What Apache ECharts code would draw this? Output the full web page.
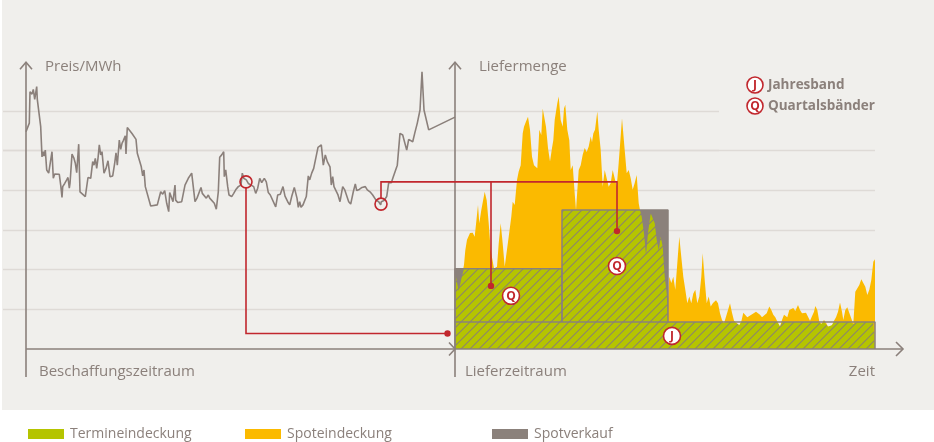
<!DOCTYPE html>
<html><head><meta charset="utf-8">
<script src="https://cdn.jsdelivr.net/npm/echarts@6/dist/echarts.min.js"></script>
<style>html,body{margin:0;padding:0;background:#fff}#c{width:934px;height:442px}</style>
</head><body><div id="c"></div>
<script>
// ---------- data ----------
const priceDays = [0,3.3,4,6,7.3,8.7,10.7,11.3,12.7,14.7,16,17.3,18,19.3,20.7,22.7,24,26,27.3,28.7,30.7,33.3,34.7,36,36.7,38.7,40.7,42,43.3,44,46,48,49.3,50.7,52.7,54,56,59.3,62,64.7,66.7,68,69.3,70.7,72,73.3,74.7,76,78,80,82,84,86.7,88.7,90,91.3,93.3,94.7,96,97.3,99.3,100,101.3,106,110,111.3,115.3,116.7,118,119.3,124.7,131.3,133.3,134.7,136.7,138.7,140.7,142.7,143.7,145.7,147,149,149.7,151.7,153.7,155.7,157.7,159,162.3,165.7,169,171,175,176.3,178.3,180.3,182.3,183.7,185.7,188.3,190.3,192.3,193.7,195.7,197.7,198.3,199.7,201.7,203,205.7,207.7,209.7,212.3,215,216.3,217.7,220.3,222.3,224.3,227.7,229.7,231.7,233.7,235.7,238.3,240.3,242.3,244.3,246.3,249.7,251.7,254.3,257,259,261.7,263.7,265.7,268.3,271,272.3,273.7,275,277,278.3,280.3,282.3,283.7,285.7,287.7,289,292,295.3,297.3,299.3,301.3,304,305.3,306.7,308,310,312,314,316.7,318.7,320.7,322.7,324.7,327.3,329.3,330.7,333.3,336,338,339.3,341.3,344,346.7,348,350,352.7,354.7,355.3,358,360.7,362.7,365.3,367.3,371.3,374,376.7,378.7,380.7,382.7,384.7,386.7,388.7,391.3,394,396,398,402.7,429];
const priceValues = [54.7,56.9,64.8,64.2,65.4,62.9,66.1,62.9,62.7,56.0,48.4,49.7,48.6,50.1,45.1,44.3,43.8,49.7,43.0,44.1,43.8,44.0,41.3,38.2,40.9,41.7,42.6,43.2,40.5,41.7,49.1,48.0,46.8,44.4,51.6,39.6,39.2,38.4,43.2,43.0,47.2,46.3,48.0,45.5,48.0,51.4,48.9,49.7,44.3,45.5,47.4,43.4,43.6,46.8,49.4,46.3,52.6,50.3,51.8,52.5,53.7,49.1,55.8,54.3,52.8,49.3,45.9,43.6,45.1,40.9,36.0,36.3,36.0,39.6,39.0,39.9,36.7,34.6,39.4,39.6,37.1,41.3,37.5,36.9,37.4,37.1,36.9,41.3,43.0,44.3,37.1,38.0,40.7,39.2,39.4,38.0,38.8,38.0,37.5,36.7,35.2,39.6,48.3,48.9,49.7,43.4,45.1,40.9,38.8,38.4,39.2,40.1,40.9,41.3,44.3,43.0,42.6,41.7,41.3,40.9,39.2,40.5,43.0,41.9,43.0,42.1,39.4,38.8,38.5,35.8,38.8,39.0,40.9,38.5,37.1,36.3,38.4,40.7,38.0,35.7,37.1,35.7,36.3,36.7,38.4,43.6,42.6,44.3,45.5,45.9,50.8,51.4,46.3,48.9,47.2,45.9,41.3,43.4,40.9,40.5,38.8,37.1,40.9,40.1,39.6,37.1,36.5,39.6,41.6,39.9,40.2,40.7,40.5,40.9,40.1,39.6,38.8,39.2,37.5,37.1,36.3,37.1,37.4,38.4,41.9,41.9,43.4,46.3,54.3,53.9,53.5,50.1,52.8,52.6,52.2,54.3,56.9,60.2,69.8,60.2,55.2,58.4];

const demandDays = [0,3.7,6.5,9,10.3,12,15,17.7,19.7,23,24.3,26.3,29.7,31.7,33.7,35.7,37.7,39,42,43.7,45.7,47.7,49.7,51.7,53.7,56.3,57.7,59.7,62,63.7,65.7,67.7,69,71,73,75,77,79,80.3,82.3,84.3,86.3,87.7,89,91,93,95,97,98.3,99.7,101,102.3,103.7,105.7,107.7,109,110.3,112.3,114.3,115.7,117.7,119.7,121,122,123.7,125.7,127.7,129.7,131.7,133.7,135.7,137,138.3,140,142.3,143.7,145.7,147.7,149.7,151.7,153.7,155.7,157.7,159.7,161.7,163.7,167,169.7,171.7,173.7,175.7,177.7,179.7,181.7,183.7,185,186.7,189,191,193,195.7,197.7,199.7,201.7,203.7,205.7,207.7,209.7,211.7,213,214.3,216.3,218.3,220.3,222.3,224.3,226.3,228.3,230.3,232.3,234.3,236.3,238.3,240.3,242.3,244.3,246.3,247.7,249.7,251.7,253.7,255.7,258,261,263,265,267,269,271,273,275,277,279,281.7,284.3,286.3,288.3,290.3,292.3,294.3,296.3,298.3,301,303,305,307,309,311.7,314.3,316.3,318.3,320.3,322.3,325,327,329,330.3,332.3,334.3,336.3,338.3,340.3,343,345,347,349,351,353,355,357,359,360.3,362.3,364.3,366.3,369,371,373,375,377,379,381,383,385,387,388.3,390.3,392.3,394.3,396.3,398.3,400.3,402.3,404.3,406.3,408.3,410.3,412.3,414.3,416.3,418.3,419.7,420];
const demandValues = [19.4,14.6,17.9,21.2,24.9,27.5,29.2,29.3,28.3,36.3,31.7,35.0,39.6,37.5,31.7,24.9,24.5,20.3,20.7,26.6,31.7,26.6,20.7,20.7,28.3,33.3,37.1,36.3,42.6,44.7,46.3,54.3,56.0,57.3,58.5,55.2,48.4,46.3,46.8,45.5,55.2,53.9,60.6,61.0,56.0,50.6,47.2,50.6,52.6,57.7,58.2,61.9,63.6,57.7,56.0,60.6,61.5,55.2,52.6,45.1,46.3,39.2,35.0,35.5,45.1,46.3,48.9,50.6,49.6,51.0,53.5,52.1,54.3,55.2,59.8,55.2,50.1,40.9,45.1,44.6,40.9,41.8,45.1,44.6,40.9,46.9,58.1,50.1,44.3,45.1,43.0,40.1,41.8,43.8,36.7,35.0,33.3,29.1,23.7,29.2,34.2,34.6,31.7,27.5,24.9,28.3,25.8,18.2,14.0,12.3,18.2,16.6,18.2,14.9,21.6,28.3,23.2,18.2,14.9,11.5,13.2,11.5,14.0,14.9,11.5,13.2,18.2,24.1,17.4,11.5,13.2,10.7,11.6,12.3,11.5,9.0,7.3,6.5,8.1,9.8,11.5,9.1,7.1,6.5,6.0,6.9,9.1,9.6,8.0,7.5,8.6,9.0,9.4,9.6,8.6,8.0,7.5,9.0,10.7,9.8,8.6,8.0,6.9,5.6,7.3,8.6,9.0,8.0,9.8,9.4,10.3,9.6,11.1,9.8,9.0,9.4,9.1,9.0,7.1,7.3,9.4,10.8,9.8,6.9,6.3,7.3,6.6,5.6,5.2,6.0,7.1,8.0,9.4,11.7,9.4,7.3,9.8,10.5,10.7,7.7,6.3,14.4,14.9,16.1,17.6,17.4,15.7,13.6,14.9,17.4,22.0,22.6,21.9];

const jahresband = 6.8;                 // base band, whole delivery period
const quarterStarts = [0, 107, 213, 316];
const quartalsbaender = [13.4, 28.2, 0, 0];
const lieferEnde = 420;
const beschaffungsEnde = 429;

const legendNames = ['Termineindeckung', 'Spoteindeckung', 'Spotverkauf'];
const axisTitles = ['Preis/MWh', 'Liefermenge'];
const periodLabels = ['Beschaffungszeitraum', 'Lieferzeitraum', 'Zeit'];
const bandLegend = [['J', 'Jahresband'], ['Q', 'Quartalsbänder']];

// annotation anchors (data units)
const kaufJahr = [220, 42.1];       // price grid
const kaufQuartal = [355, 36.5];    // price grid
const zielJahr = [-7.5, 3.9];       // volume grid
const zielQ1 = [36, 15.9];
const zielQ2 = [162, 29.7];
const labelJ = [217, 3.3];
const labelQ1 = [56, 13.4];
const labelQ2 = [162, 20.9];

// ---------- style / layout ----------
const C = { bg:'#f0efec', text:'#8b807b', axis:'#8b807b', grid:'#dedad6', green:'#b5c400',
            orange:'#fbba00', gray:'#8b817b', red:'#c1272d', hatch:'#8d866a' };
const Y_BASE = 349, UNIT = 3.97, Y_MAX = 72;
const FONT = "'Open Sans', 'Noto Sans', sans-serif";

function hatchCanvas(){
  const s = 9, c = document.createElement('canvas');
  c.width = s; c.height = s;
  const g = c.getContext('2d');
  g.fillStyle = C.green; g.fillRect(0,0,s,s);
  g.strokeStyle = C.hatch; g.lineWidth = 1.1;
  g.beginPath();
  g.moveTo(-1, 1); g.lineTo(1, -1);
  g.moveTo(0, s); g.lineTo(s, 0);
  g.moveTo(s-1, s+1); g.lineTo(s+1, s-1);
  g.stroke();
  return c;
}

function quarterIndex(x){ let q = 0; for (let i=0;i<quarterStarts.length;i++) if (x >= quarterStarts[i]) q = i; return q; }
function bandAt(x){ return jahresband + quartalsbaender[quarterIndex(x)]; }
function demandAt(x){
  for (let i=1;i<demandDays.length;i++){
    if (x <= demandDays[i]){
      const t = (x - demandDays[i-1]) / (demandDays[i] - demandDays[i-1]);
      return demandValues[i-1] + t*(demandValues[i]-demandValues[i-1]);
    }
  }
  return demandValues[demandValues.length-1];
}

const pricePairs = priceDays.map((d,i)=>[d, priceValues[i]]);
const demandPairs = demandDays.map((d,i)=>[d, demandValues[i]]);

// hedged volume = min(demand, band); insert steps at quarter boundaries
const greenPairs = [];
let bi = 1;
demandDays.forEach((d,i)=>{
  while (bi < quarterStarts.length && d > quarterStarts[bi]){
    const xb = quarterStarts[bi], di = demandAt(xb);
    greenPairs.push([xb, Math.min(di, jahresband + quartalsbaender[bi-1])]);
    greenPairs.push([xb, Math.min(di, jahresband + quartalsbaender[bi])]);
    bi++;
  }
  greenPairs.push([d, Math.min(demandValues[i], bandAt(d))]);
});

// contracted band in quarters with a quarter product (spot sale where demand below)
const grayPairs = [];
quartalsbaender.forEach((q,i)=>{
  if (q > 0){
    const end = i+1 < quarterStarts.length ? quarterStarts[i+1] : lieferEnde;
    grayPairs.push([quarterStarts[i], jahresband+q], [end, jahresband+q]);
  }
});

// band outlines
const outlineSeries = [];
const outlineStyle = { type:'line', xAxisIndex:3, yAxisIndex:3, symbol:'none', clip:false, silent:true,
  lineStyle:{ color:C.gray, width:1.5 }, z:6 };
outlineSeries.push(Object.assign({}, outlineStyle, { data:[[0,0],[0,jahresband],[lieferEnde,jahresband],[lieferEnde,0]] }));
quartalsbaender.forEach((q,i)=>{
  if (q > 0){
    const end = i+1 < quarterStarts.length ? quarterStarts[i+1] : lieferEnde;
    outlineSeries.push(Object.assign({}, outlineStyle, { data:[[quarterStarts[i],jahresband],[quarterStarts[i],jahresband+q],[end,jahresband+q],[end,jahresband]] }));
  }
});

const chart = echarts.init(document.getElementById('c'), null, { renderer:'canvas', width:934, height:442 });

const gridTop = Y_BASE - Y_MAX*UNIT, gridH = Y_MAX*UNIT;
const hidden = { show:false };
const splitAxis = (gi, mn, mx) => ({ gridIndex:gi, type:'value', min:mn, max:mx, interval:10,
  axisLine:hidden, axisTick:hidden, axisLabel:hidden,
  splitLine:{ show:true, lineStyle:{ color:C.grid, width:1.3 } } });

const legendBase = (left, name, color) => ({
  left, top: 427, orient:'horizontal', icon:'rect', itemWidth:36, itemHeight:10, itemGap:0, padding:0,
  selectedMode:false, textStyle:{ color:C.text, fontFamily:FONT, fontSize:14, padding:[0,0,0,1] },
  data:[{ name, itemStyle:{ color } }]
});

chart.setOption({
  animation:false,
  backgroundColor:'#ffffff',
  grid:[
    { left:3, width:872, top: Y_BASE-50*UNIT, height:40*UNIT, outerBoundsMode:'none' },
    { left:3, width:716, top: Y_BASE-60*UNIT, height:10*UNIT, outerBoundsMode:'none' },
    { left:26, width:beschaffungsEnde, top:gridTop, height:gridH, outerBoundsMode:'none' },
    { left:455, width:lieferEnde, top:gridTop, height:gridH, outerBoundsMode:'none' }
  ],
  xAxis:[
    { gridIndex:0, type:'value', min:0, max:1, show:false },
    { gridIndex:1, type:'value', min:0, max:1, show:false },
    { gridIndex:2, type:'value', min:0, max:beschaffungsEnde, show:false },
    { gridIndex:3, type:'value', min:0, max:lieferEnde, show:false }
  ],
  yAxis:[
    splitAxis(0, 10, 50),
    splitAxis(1, 50, 60),
    { gridIndex:2, type:'value', min:0, max:Y_MAX, show:false },
    { gridIndex:3, type:'value', min:0, max:Y_MAX, show:false }
  ],
  legend:[
    legendBase(28, legendNames[0], C.green),
    legendBase(245, legendNames[1], C.orange),
    legendBase(492, legendNames[2], C.gray)
  ],
  series:[
    { name:'Preis', type:'line', xAxisIndex:2, yAxisIndex:2, data:pricePairs, symbol:'none',
      lineStyle:{ color:C.axis, width:1.6 }, z:5 },
    { name:legendNames[1], type:'line', xAxisIndex:3, yAxisIndex:3, data:demandPairs, symbol:'none',
      itemStyle:{ color:C.orange }, lineStyle:{ width:0, opacity:0 }, areaStyle:{ color:C.orange, opacity:1 }, z:2 },
    { name:legendNames[2], type:'line', xAxisIndex:3, yAxisIndex:3, data:grayPairs, symbol:'none',
      itemStyle:{ color:C.gray }, lineStyle:{ width:0, opacity:0 }, areaStyle:{ color:C.gray, opacity:1 }, z:3 },
    { name:legendNames[0], type:'line', xAxisIndex:3, yAxisIndex:3, data:greenPairs, symbol:'none',
      itemStyle:{ color:C.green }, lineStyle:{ width:0, opacity:0 },
      areaStyle:{ color:{ image:hatchCanvas(), repeat:'repeat' }, opacity:1 }, z:4 }
  ].concat(outlineSeries)
});

// ---------- decorations & annotations ----------
const P = pt => chart.convertToPixel({ xAxisIndex:2, yAxisIndex:2 }, pt);
const V = pt => chart.convertToPixel({ xAxisIndex:3, yAxisIndex:3 }, pt);
const o = P([0,0]), yTop = P([0,Y_MAX])[1] - 1;
const ls = V([0,0]), le = V([lieferEnde,0]);
const xEnd = le[0] + 28, yTick = o[1] + 28;

const axisLine = pts => ({ type:'polyline', shape:{ points:pts }, style:{ stroke:C.axis, lineWidth:1.6, fill:null }, z:50 });
const redLine = pts => ({ type:'polyline', shape:{ points:pts }, style:{ stroke:C.red, lineWidth:1.6, fill:null }, z:60 });
const dot = p => ({ type:'circle', shape:{ cx:p[0], cy:p[1], r:3.2 }, style:{ fill:C.red }, z:61 });
const badge = (p, letter, r) => ([
  { type:'circle', shape:{ cx:p[0], cy:p[1], r:r }, style:{ fill:'#ffffff', stroke:C.red, lineWidth:1.6 }, z:62 },
  { type:'text', x:p[0], y:p[1]+0.5, style:{ text:letter, fill:C.red, font:"bold 12px "+FONT, textAlign:'center', textVerticalAlign:'middle' }, z:63 }
]);
const label = (x, y, text, size, align, weight) => ({ type:'text', x, y,
  style:{ text, fill:C.text, font:(weight||'normal')+' '+size+'px '+FONT, textAlign:align||'left', textVerticalAlign:'middle' }, z:50 });

const c1 = P(kaufJahr), c2 = P(kaufQuartal);
const tJ = V(zielJahr), tQ1 = V(zielQ1), tQ2 = V(zielQ2);
const yH = c1[1];

const els = [
  { type:'rect', shape:{ x:2, y:0, width:932, height:410 }, style:{ fill:C.bg }, z:-100 },
  axisLine([[o[0], yTick],[o[0], yTop]]),
  axisLine([[o[0]-6, yTop+7],[o[0], yTop],[o[0]+6, yTop+7]]),
  axisLine([[ls[0], yTick],[ls[0], yTop]]),
  axisLine([[ls[0]-6, yTop+7],[ls[0], yTop],[ls[0]+6, yTop+7]]),
  axisLine([[o[0], o[1]],[xEnd, o[1]]]),
  axisLine([[ls[0]-6, o[1]-6.5],[ls[0], o[1]],[ls[0]-6, o[1]+6.5]]),
  axisLine([[xEnd-7, o[1]-7],[xEnd, o[1]],[xEnd-7, o[1]+7]]),
  label(o[0]+19, yTop+5, axisTitles[0], 15),
  label(ls[0]+24, yTop+5, axisTitles[1], 15),
  label(o[0]+13, o[1]+23, periodLabels[0], 15),
  label(ls[0]+10, o[1]+23, periodLabels[1], 15),
  label(le[0], o[1]+23, periodLabels[2], 15, 'right'),
  redLine([[c1[0], c1[1]+6],[c1[0], tJ[1]],[tJ[0], tJ[1]]]),
  redLine([[c2[0], c2[1]-6],[c2[0], yH],[tQ2[0], yH],[tQ2[0], tQ2[1]]]),
  redLine([[tQ1[0], yH],[tQ1[0], tQ1[1]]]),
  { type:'circle', shape:{ cx:c1[0], cy:c1[1], r:6 }, style:{ fill:null, stroke:C.red, lineWidth:1.6 }, z:61 },
  { type:'circle', shape:{ cx:c2[0], cy:c2[1], r:6 }, style:{ fill:null, stroke:C.red, lineWidth:1.6 }, z:61 },
  dot(tJ), dot(tQ1), dot(tQ2)
];
els.push(...badge(V(labelJ), 'J', 8.5), ...badge(V(labelQ1), 'Q', 8.5), ...badge(V(labelQ2), 'Q', 8.5));
bandLegend.forEach((b,i)=>{
  const cy = 85 + i*21;
  els.push(...badge([755, cy], b[0], 8));
  els.push(label(768, cy, b[1], 13.5, 'left', 'bold'));
});
chart.setOption({ graphic:{ elements: els } });
</script></body></html>
